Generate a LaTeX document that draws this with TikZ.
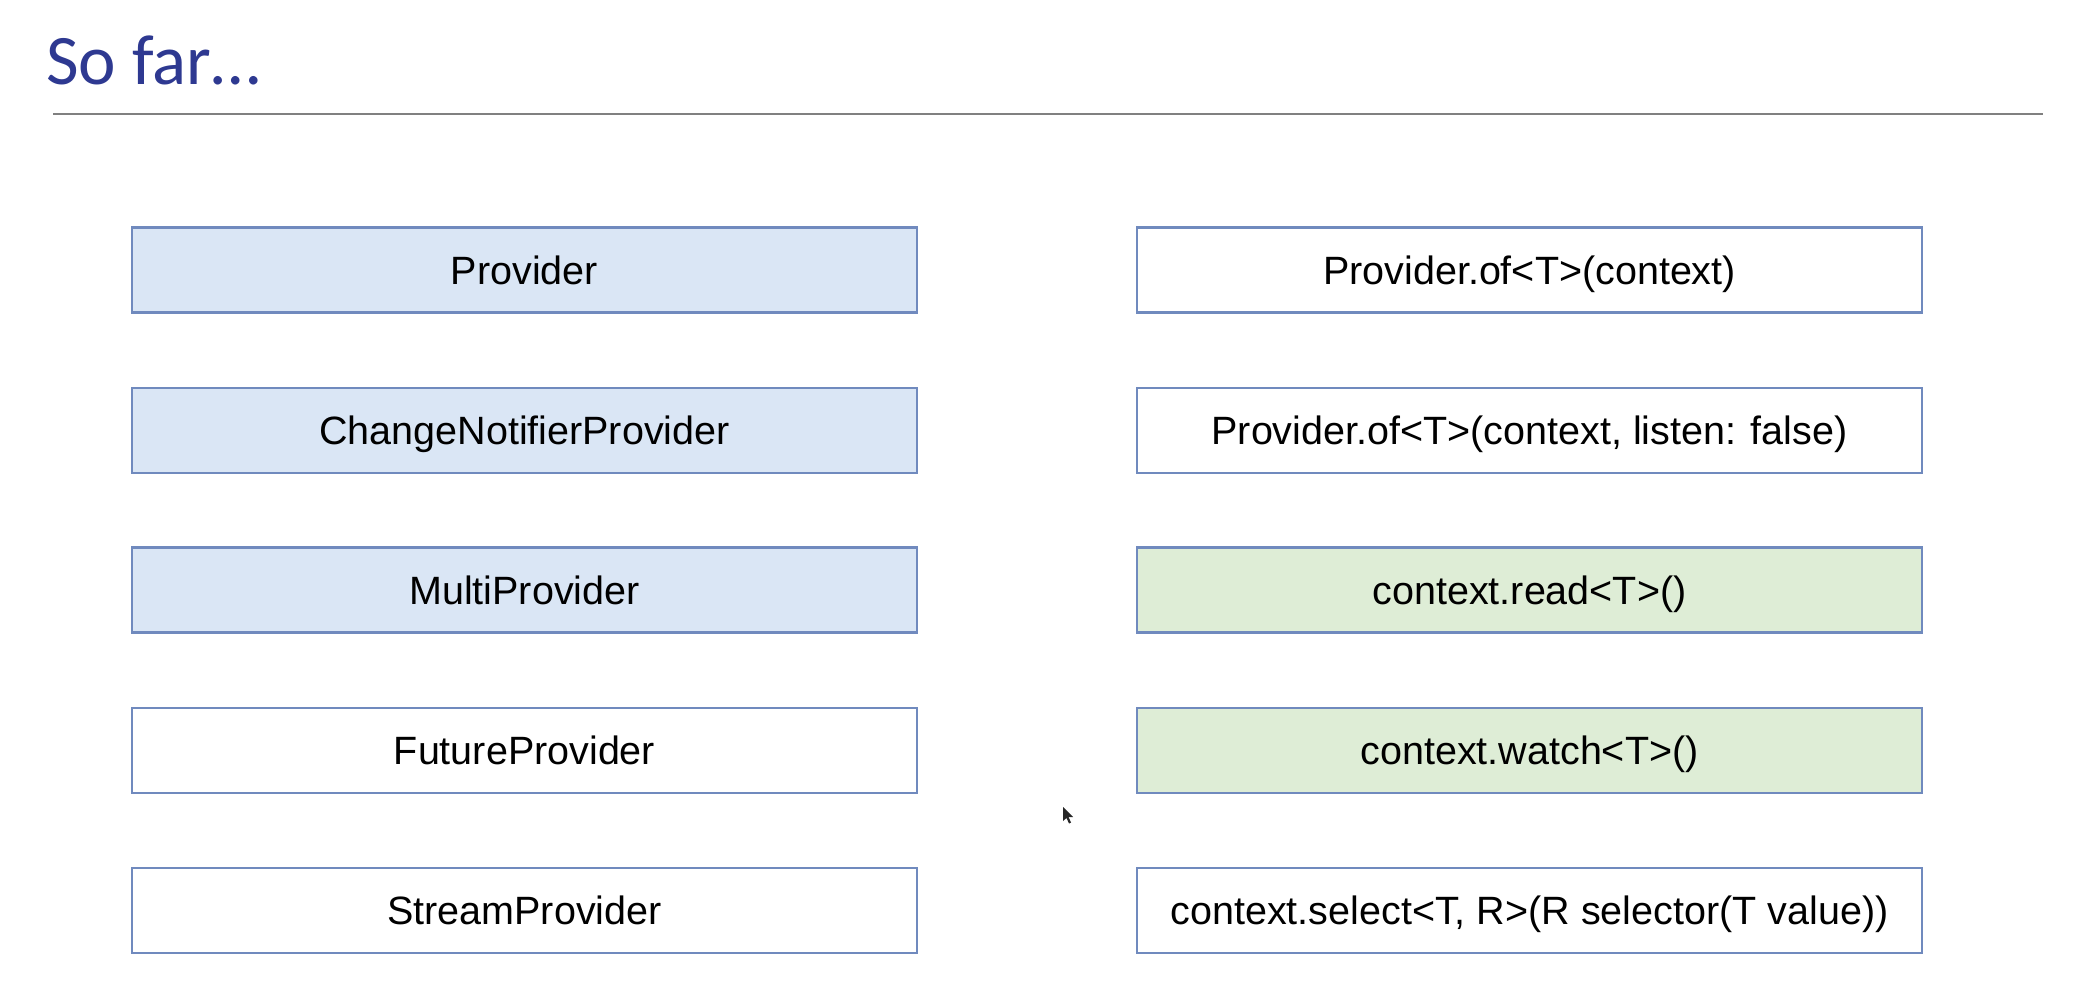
\documentclass[tikz,border=0pt]{standalone}
\usepackage{fontspec}
\setmainfont{Liberation Sans}
\newfontfamily\titlefont{Carlito}
\definecolor{titleblue}{RGB}{46,57,145}
\definecolor{boxline}{RGB}{112,138,190}
\definecolor{bluefill}{RGB}{218,230,245}
\definecolor{greenfill}{RGB}{222,237,214}
\definecolor{rulegray}{RGB}{128,128,128}
\begin{document}
\begin{tikzpicture}[x=1bp,y=-1bp,
  box/.style={draw=boxline, line width=2.5bp, minimum width=785bp, minimum height=85bp, inner sep=0pt, fill=white},
  bluebox/.style={box, fill=bluefill},
  greenbox/.style={box, fill=greenfill},
  lbl/.style={anchor=base, inner sep=0pt, font=\fontsize{39.5bp}{47bp}\selectfont}]
\useasboundingbox (0,0) rectangle (2100,1006);
\fill[white] (0,0) rectangle (2100,1006);
% title
\node[anchor=base west, inner sep=0pt, text=titleblue, font=\titlefont\fontsize{71bp}{85bp}\selectfont] (title) at (46,84) {So far…};
\coordinate (ruleL) at (53,114);
\coordinate (ruleR) at (2043,114);
\draw[rulegray, line width=2.5bp] (ruleL) -- (ruleR);
% left column
\node[bluebox] (l1) at (524.5,270) {};
\node[bluebox] (l2) at (524.5,430.5) {};
\node[bluebox] (l3) at (524.5,590) {};
\node[box] (l4) at (524.5,750.5) {};
\node[box] (l5) at (524.5,910.5) {};
% right column
\node[box] (r1) at (1529.5,270) {};
\node[box] (r2) at (1529.5,430.5) {};
\node[greenbox] (r3) at (1529.5,590) {};
\node[greenbox] (r4) at (1529.5,750.5) {};
\node[box] (r5) at (1529.5,910.5) {};
% labels
\node[lbl] (t1) at ([yshift=-14bp]l1.center) {Provider};
\node[lbl] (t2) at ([yshift=-14bp]l2.center) {ChangeNotifierProvider};
\node[lbl] (t3) at ([yshift=-14bp]l3.center) {MultiProvider};
\node[lbl] (t4) at ([yshift=-14bp]l4.center) {FutureProvider};
\node[lbl] (t5) at ([yshift=-14bp]l5.center) {StreamProvider};
\node[lbl] (u1) at ([yshift=-14bp]r1.center) {Provider.of<T>(context)};
\node[lbl] (u2) at ([yshift=-14bp]r2.center) {Provider.of<T>(context, listen: false)};
\node[lbl] (u3) at ([yshift=-14bp]r3.center) {context.read<T>()};
\node[lbl] (u4) at ([yshift=-14bp]r4.center) {context.watch<T>()};
\node[lbl] (u5) at ([yshift=-14bp]r5.center) {context.select<T, R>(R selector(T value))};
% mouse cursor
\fill[black!85] (1063,807) -- (1063,821) -- (1066.5,818) -- (1069,823.5) -- (1071,822.5) -- (1068.5,817) -- (1073,817) -- cycle;
\end{tikzpicture}
\end{document}
